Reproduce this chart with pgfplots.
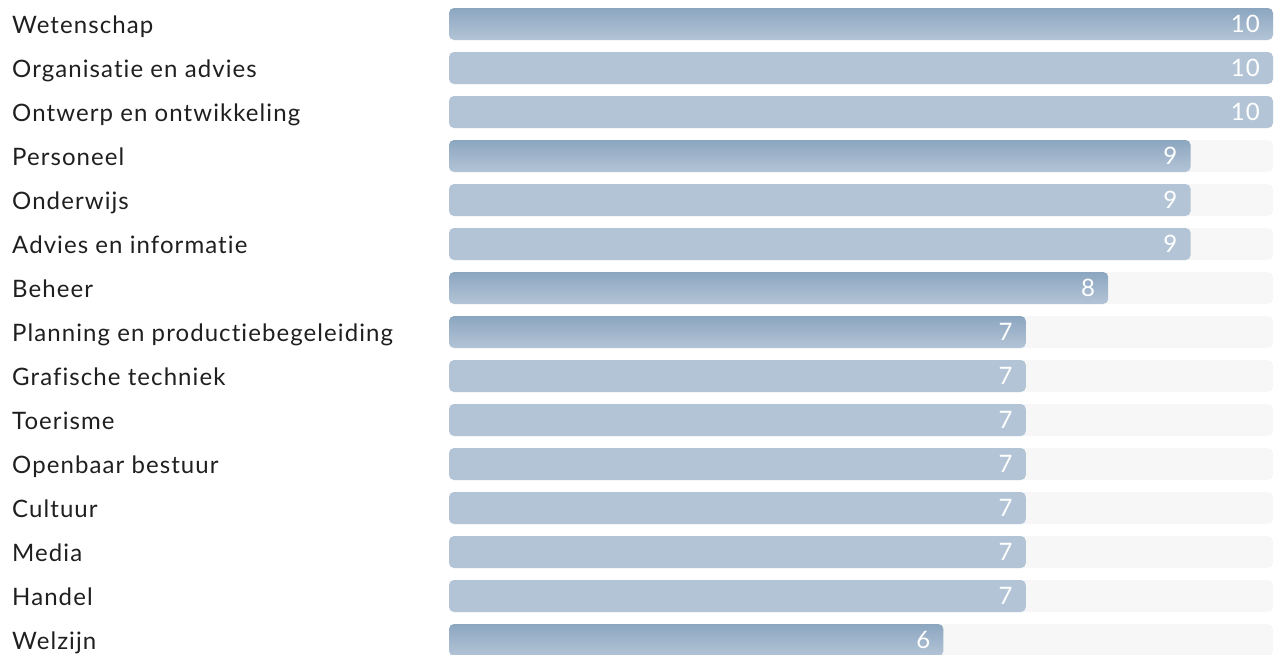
\documentclass[border=0pt]{standalone}
\usepackage{pgfplots}
\pgfplotsset{compat=1.18}
\usepackage{fontspec}
\setmainfont{Lato}[LetterSpace=4.5, Ligatures={NoCommon}]
\definecolor{trackc}{HTML}{F7F7F7}
\definecolor{barc}{HTML}{B3C4D6}
\definecolor{bartop}{HTML}{8CA6C0}
\begin{document}
\begin{tikzpicture}[x=1pt,y=1pt]
\useasboundingbox (0,0) rectangle (1282,-655);
\begin{axis}[
  at={(449pt,-2pt)}, anchor=north west,
  scale only axis, width=824pt, height=660pt,
  xmin=0, xmax=10, ymin=-0.5, ymax=14.5, y dir=reverse,
  axis line style={draw=none}, major tick length=0pt,
  xtick=\empty,
  ytick={0,...,14},
  yticklabels={Wetenschap,Organisatie en advies,Ontwerp en ontwikkeling,Personeel,Onderwijs,Advies en informatie,Beheer,Planning en productiebegeleiding,Grafische techniek,Toerisme,Openbaar bestuur,Cultuur,Media,Handel,Welzijn},
  yticklabel style={anchor=base west, inner sep=0pt, xshift=-437pt, yshift=-9.5pt, font=\fontsize{24}{28}\selectfont, text=black!88},
  clip=false,
  xbar, bar width=32pt, bar shift=0pt,
  /pgf/number format/assume math mode=true,
  every node near coord/.append style={anchor=base east, inner sep=0pt, xshift=-13pt, yshift=-8.5pt, text=white, font=\fontsize{24}{28}\selectfont},
  grad/.style={draw=none, top color=bartop, bottom color=barc, rounded corners=5pt, nodes near coords},
]
\addplot[draw=none, fill=trackc, rounded corners=5pt] coordinates {
(10,0) (10,1) (10,2) (10,3) (10,4) (10,5) (10,6) (10,7) (10,8) (10,9) (10,10) (10,11) (10,12) (10,13) (10,14)};
\addplot[grad] coordinates {(10,0)};
\addplot[grad] coordinates {(9,3)};
\addplot[grad] coordinates {(8,6)};
\addplot[grad] coordinates {(7,7)};
\addplot[grad] coordinates {(6,14)};
\addplot[draw=none, fill=barc, rounded corners=5pt, nodes near coords] coordinates {
(10,1) (10,2) (9,4) (9,5) (7,8) (7,9) (7,10) (7,11) (7,12) (7,13)};
\end{axis}
\end{tikzpicture}
\end{document}
